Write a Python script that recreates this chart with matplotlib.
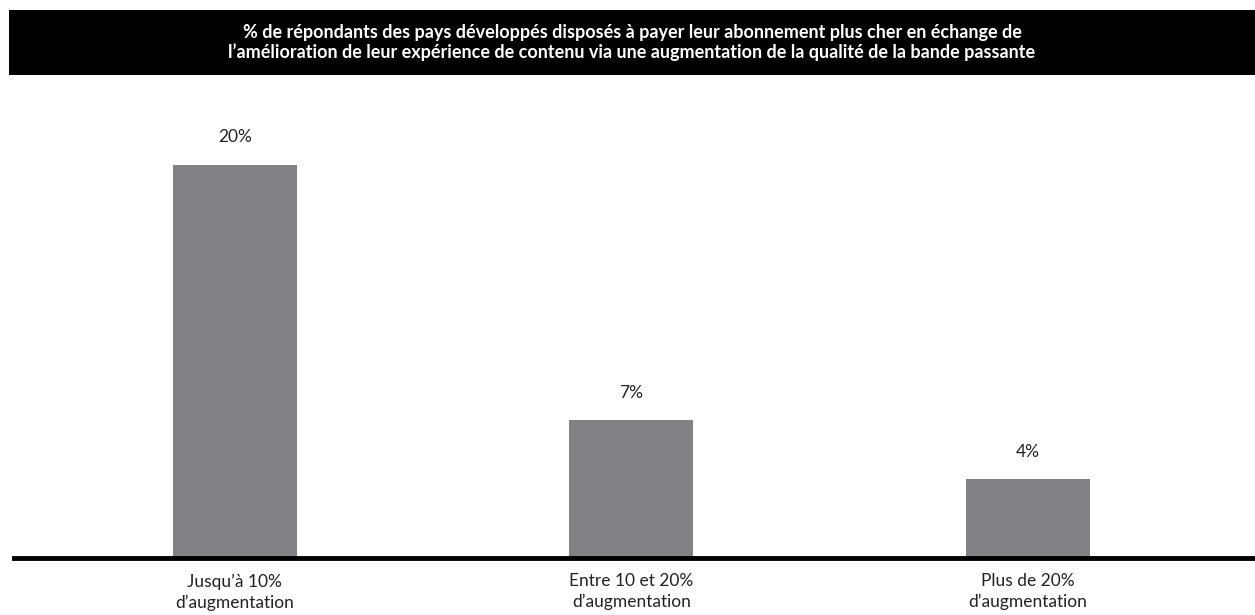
import matplotlib.pyplot as plt
import numpy as np

plt.rcParams['font.family'] = ['Lato', 'DejaVu Sans']

categories = ["Jusqu\u2019à 10%\nd\u2019augmentation",
              "Entre 10 et 20%\nd\u2019augmentation",
              "Plus de 20%\nd\u2019augmentation"]
values = [20, 7, 4]
value_labels = ["20%", "7%", "4%"]
title = ("% de répondants des pays développés disposés à payer leur abonnement plus cher en échange de\n"
         "l\u2019amélioration de leur expérience de contenu via une augmentation de la qualité de la bande passante")

W, H = 1255, 615
fig = plt.figure(figsize=(W / 100, H / 100), dpi=100)

# black title band
band = fig.add_axes([9 / W, 1 - 75 / H, 1 - 9 / W, 65 / H])
band.set_facecolor('black')
band.set_xticks([])
band.set_yticks([])
for s in band.spines.values():
    s.set_visible(False)
band.text(0.5, 0.5, title, color='white', ha='center', va='center',
          fontsize=13, fontweight='bold', linespacing=1.1,
          transform=band.transAxes)

# bar area: baseline at y=558, 20% reaches y=165
ax = fig.add_axes([14 / W, (H - 558) / H, 1 - 14 / W, 393 / H])
x = np.arange(len(values))
ax.bar(x, values, width=0.313, color='#808285', zorder=2)
ax.set_xlim(-0.557, 2.573)
ax.set_ylim(0, 20)
ax.axhline(0, color='black', lw=3.5, zorder=3, clip_on=False)

for xi, v, lab in zip(x, values, value_labels):
    ax.annotate(lab, (xi, v), xytext=(0, 20), textcoords='offset points',
                ha='center', va='center', fontsize=12.5, color='#222222',
                annotation_clip=False)

ax.set_xticks(x)
ax.set_xticklabels(categories, fontsize=12.5, color='#222222', linespacing=1.35)
ax.tick_params(axis='x', length=0, pad=11)
ax.set_yticks([])
for s in ax.spines.values():
    s.set_visible(False)

fig.savefig('out.png', dpi=100)
